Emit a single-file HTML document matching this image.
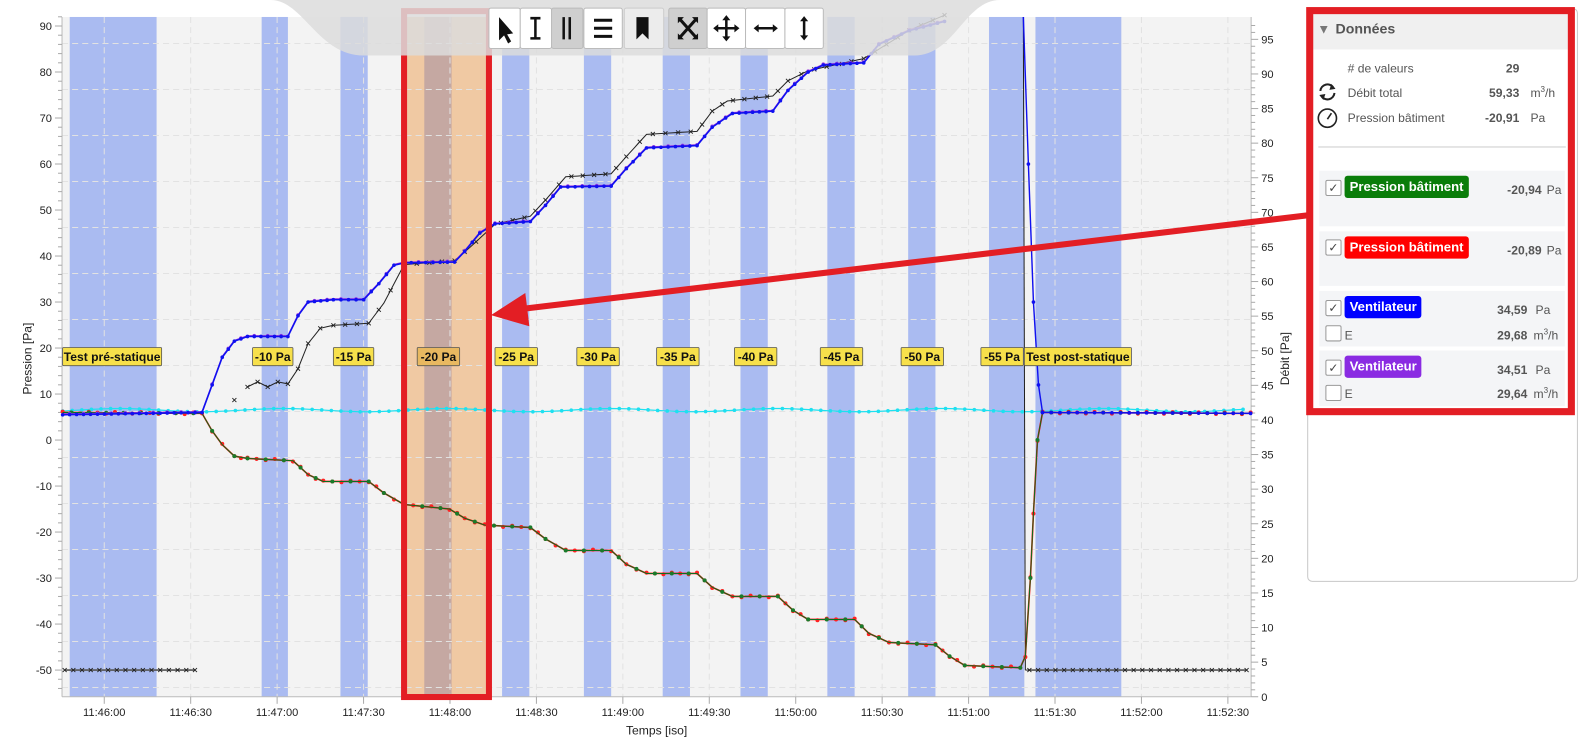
<!DOCTYPE html>
<html><head><meta charset="utf-8">
<style>
html,body{margin:0;padding:0;background:#fff;overflow:hidden;}
#wrap{position:absolute;left:0;top:0;width:1568px;height:733.5px;transform:scale(1.0102);transform-origin:0 0;font-family:"Liberation Sans",sans-serif;}
svg text{font-family:"Liberation Sans",sans-serif;}
.p{position:absolute;font-size:12px;color:#555;white-space:nowrap;}
.card{position:absolute;left:1306px;width:243px;background:#f4f5f7;}
.cb{position:absolute;width:14px;height:14px;border:1px solid #999;background:#fff;border-radius:2px;font-size:12px;line-height:14px;text-align:center;color:#444;}
.badge{position:absolute;height:22px;line-height:22px;color:#fff;font-weight:bold;font-size:13px;padding:0 5px;border-radius:3px;}
.v{position:absolute;font-weight:bold;font-size:12px;color:#555;text-align:right;width:60px;}
</style></head><body>
<div id="wrap">
<svg id="s" width="1568" height="734" viewBox="0 0 1568 734" style="position:absolute;left:0;top:0"></svg>

<div style="position:absolute;left:1294px;top:8px;width:266px;height:566px;border:1px solid #c8c8c8;border-radius:5px;background:#fff"></div>
<div style="position:absolute;left:1300px;top:13px;width:253px;height:36px;background:#f0f0f0"></div>
<div class="p" style="left:1304px;top:21px;font-size:13px;color:#777">▼</div>
<div class="p" style="left:1322px;top:20px;font-size:14px;font-weight:bold;color:#555">Données</div>
<div class="p" style="left:1334px;top:61px">&#35; de valeurs</div>
<div class="v" style="left:1444px;top:61px">29</div>
<div class="p" style="left:1334px;top:85px">Débit total</div>
<div class="v" style="left:1444px;top:85px">59,33</div>
<div class="p" style="left:1515px;top:84px">m<sup style="font-size:8px">3</sup>/h</div>
<div class="p" style="left:1334px;top:110px">Pression bâtiment</div>
<div class="v" style="left:1444px;top:110px">-20,91</div>
<div class="p" style="left:1515px;top:110px">Pa</div>
<svg style="position:absolute;left:1303px;top:80px" width="22" height="50" viewBox="0 0 22 50">
<path d="M4,10 A7,7 0 0 1 17,7" fill="none" stroke="#222" stroke-width="2"/><path d="M18,12 A7,7 0 0 1 5,15" fill="none" stroke="#222" stroke-width="2"/>
<polygon points="15,3 19,8 13,9" fill="#222"/><polygon points="7,19 3,14 9,13" fill="#222"/>
<circle cx="11" cy="37" r="9" fill="none" stroke="#222" stroke-width="1.6"/><line x1="11" y1="38" x2="15" y2="32" stroke="#222" stroke-width="1.6"/>
</svg>
<div style="position:absolute;left:1305px;top:145px;width:245px;height:1px;background:#ccc"></div>

<div class="card" style="top:169px;height:55px"></div>
<div class="cb" style="left:1312px;top:178px">✓</div>
<div class="badge" style="left:1331px;top:174px;background:#0a7d0a">Pression bâtiment</div>
<div class="v" style="left:1466px;top:181px">-20,94</div><div class="p" style="left:1531px;top:181px">Pa</div>

<div class="card" style="top:229px;height:54px"></div>
<div class="cb" style="left:1312px;top:237px">✓</div>
<div class="badge" style="left:1331px;top:234px;background:#f00">Pression bâtiment</div>
<div class="v" style="left:1466px;top:241px">-20,89</div><div class="p" style="left:1531px;top:241px">Pa</div>

<div class="card" style="top:288px;height:55px"></div>
<div class="cb" style="left:1312px;top:297px">✓</div>
<div class="badge" style="left:1331px;top:293px;background:#00f">Ventilateur</div>
<div class="v" style="left:1452px;top:300px">34,59</div><div class="p" style="left:1520px;top:300px">Pa</div>
<div class="cb" style="left:1312px;top:322px"></div><div class="p" style="left:1331px;top:325px">E</div>
<div class="v" style="left:1452px;top:325px">29,68</div><div class="p" style="left:1518px;top:324px">m<sup style="font-size:8px">3</sup>/h</div>

<div class="card" style="top:347px;height:55px"></div>
<div class="cb" style="left:1312px;top:356px">✓</div>
<div class="badge" style="left:1331px;top:352px;background:#8a2be2">Ventilateur</div>
<div class="v" style="left:1452px;top:359px">34,51</div><div class="p" style="left:1520px;top:359px">Pa</div>
<div class="cb" style="left:1312px;top:381px"></div><div class="p" style="left:1331px;top:383px">E</div>
<div class="v" style="left:1452px;top:383px">29,64</div><div class="p" style="left:1518px;top:382px">m<sup style="font-size:8px">3</sup>/h</div>

<div style="position:absolute;left:1293px;top:7px;width:252px;height:390px;border:7px solid #e31e24"></div>
</div>
<script>
const S=document.getElementById('s');let h='';
const X0=61.4,X1=1238.5,T=16.8,B=689.7;
const YL=v=>435.6-4.554*v, YR=v=>689.7-6.85*v, XT=t=>103.2+2.852*t;
h+=`<rect x="${X0}" y="${T}" width="${X1-X0}" height="${B-T}" fill="#f3f3f3"/>`;
[[69,155],[259,285],[337,364],[497,524],[578,605],[656,683],[733,760],[819,846],[899,926],[979,1014],[1025,1110]].forEach(b=>h+=`<rect x="${b[0]}" y="${T}" width="${b[1]-b[0]}" height="${B-T}" fill="#aabbf1"/>`);
h+=`<rect x="403" y="${T}" width="78" height="${B-T}" fill="#f0c9a3"/><rect x="420" y="${T}" width="27" height="${B-T}" fill="#c5a8a2"/>`;
for(let k=0;k<=13;k++){let x=XT(30*k);h+=`<line x1="${x}" y1="${T}" x2="${x}" y2="${B}" stroke="#e2e2e2" stroke-dasharray="6,4"/>`;}
for(let v=86.2;v>-56;v-=10){let y=YL(v);h+=`<line x1="${X0}" y1="${y}" x2="${X1}" y2="${y}" stroke="#e2e2e2" stroke-dasharray="6,4"/>`;}
h+=`<line x1="${X0}" y1="${T}" x2="${X0}" y2="${B}" stroke="#bbb"/><line x1="${X1}" y1="${T}" x2="${X1}" y2="${B}" stroke="#bbb"/><line x1="${X0}" y1="${B}" x2="${X1}" y2="${B}" stroke="#bbb"/>`;
for(let v=-54;v<=92;v+=2){let y=YL(v),mj=v%10==0;h+=`<line x1="${X0-(mj?7:4)}" y1="${y}" x2="${X0}" y2="${y}" stroke="#aaa"/>`;if(mj)h+=`<text x="${X0-10}" y="${y+4}" font-size="11" text-anchor="end" fill="#222">${v}</text>`;}
for(let v=0;v<=97;v++){let y=YR(v),mj=v%5==0;h+=`<line x1="${X1}" y1="${y}" x2="${X1+(mj?7:4)}" y2="${y}" stroke="#aaa"/>`;if(mj)h+=`<text x="${X1+10}" y="${y+4}" font-size="11" fill="#222">${v}</text>`;}
const tl=['11:46:00','11:46:30','11:47:00','11:47:30','11:48:00','11:48:30','11:49:00','11:49:30','11:50:00','11:50:30','11:51:00','11:51:30','11:52:00','11:52:30'];
tl.forEach((s,k)=>{let x=XT(30*k);h+=`<line x1="${x}" y1="${B}" x2="${x}" y2="${B+7}" stroke="#aaa"/><text x="${x}" y="${B+19}" font-size="11" text-anchor="middle" fill="#222">${s}</text>`;});
h+=`<text x="650" y="727" font-size="12" text-anchor="middle" fill="#222">Temps [iso]</text>`;
h+=`<text transform="translate(31,355) rotate(-90)" font-size="12" text-anchor="middle" fill="#222">Pression [Pa]</text>`;
h+=`<text transform="translate(1276,355) rotate(-90)" font-size="12" text-anchor="middle" fill="#222">Débit [Pa]</text>`;
function interp(pts,step){let o=[];for(let i=0;i<pts.length-1;i++){let [a,b]=[pts[i],pts[i+1]];let n=Math.max(1,Math.round((b[0]-a[0])/step));for(let j=0;j<n;j++)o.push([a[0]+(b[0]-a[0])*j/n,a[1]+(b[1]-a[1])*j/n]);}o.push(pts[pts.length-1]);return o;}
function line(p,c,w,op){return `<polyline points="${p.map(q=>q[0].toFixed(1)+','+q[1].toFixed(1)).join(' ')}" fill="none" stroke="${c}" stroke-width="${w}" ${op?'opacity="'+op+'"':''}/>`;}
function dots(p,c,r){return p.map(q=>`<circle cx="${q[0].toFixed(1)}" cy="${q[1].toFixed(1)}" r="${r}" fill="${c}"/>`).join('');}
function crosses(p,c){return p.map(q=>`<path d="M${q[0]-2},${q[1]-2}l4,4M${q[0]-2},${q[1]+2}l4,-4" stroke="${c}" stroke-width="0.9"/>`).join('');}
let cy=[];for(let x=62;x<=1238;x+=9.5)cy.push([x,YL(6.5+Math.sin(x*0.7)*0.35)]);
h+=line(cy,'#1ee0f0',1.2)+dots(cy,'#1ee0f0',1.8);
let bk=[[245,383],[255,378],[265,383],[275,378],[285,380],[295,365],[305,340],[317,325],[330,322],[365,320],[380,300],[400,262],[450,258],[465,245],[490,222],[525,214],[540,198],[560,175],[605,172],[620,155],[640,133],[690,130],[705,110],[720,100],[765,95],[780,80],[800,70],[855,58],[900,30],[935,15]];
let bki=interp(bk,6);h+=line(bki,'#222',1)+crosses(bki.filter((q,i)=>i%2==0),'#222')+crosses([[232,396]],'#222');
let fl1=[],fl2=[];for(let x=64;x<=193;x+=8.6)fl1.push([x,YL(-50)]);for(let x=1019;x<=1238;x+=8.6)fl2.push([x,YL(-50)]);
h+=line(fl1,'#555',1.5)+crosses(fl1,'#222')+line(fl2,'#555',1.5)+crosses(fl2,'#222');
h+=`<line x1="1013" y1="${T}" x2="1015" y2="${YL(-50)}" stroke="#222" stroke-width="1"/><line x1="1015" y1="${YL(-50)}" x2="1019" y2="${YL(-50)}" stroke="#222"/>`;
let pr=[[62,6],[200,5.8],[210,2],[220,-1],[232,-3.5],[245,-4],[290,-4.5],[305,-7.5],[320,-9],[365,-9],[380,-11.5],[400,-14],[445,-15],[460,-17],[480,-18.5],[525,-19],[540,-21.5],[560,-24],[605,-24],[620,-27],[640,-29],[690,-29],[705,-32],[725,-34],[770,-34],[785,-37],[800,-39],[846,-39],[860,-42],[880,-44],[926,-44.5],[940,-47],[955,-49],[1010,-49.5],[1015,-47],[1020,-30],[1023,-16],[1027,0],[1032,6],[1238,5.8]].map(q=>[q[0],YL(q[1])]);
let pri=interp(pr,8.6);
h+=line(pri,'#f00',1.6)+dots(pri.map((q,i)=>[q[0],q[1]+(i%3-1)*0.8]),'#f22',2)+line(pri,'#0a6e1e',1)+dots(pri.filter((q,i)=>i%2),'#1a7a2a',2);
let bl=[[62,5.5],[200,6],[210,12],[220,18],[232,21.5],[245,22.5],[285,22.5],[295,27],[305,30],[330,30.5],[360,30.5],[375,34],[390,38],[400,38.5],[450,38.7],[460,41],[475,45],[490,47],[525,47.5],[540,51],[555,55],[605,55.2],[620,59],[640,63.5],[690,64],[705,68],[725,71],[765,71.5],[780,76],[800,80],[815,81.5],[855,82],[870,86],[900,89],[935,91]].map(q=>[q[0],YL(q[1])]);
let bli=interp(bl,7);
h+=line(bli.map(q=>[q[0],q[1]-0.8]),'#9b30e0',1.2)+dots(bli.filter((q,i)=>i%2).map(q=>[q[0],q[1]-0.8]),'#a040e0',1.8);
h+=line(bli,'#1010f0',1.6)+dots(bli,'#1010f0',1.8);
let bl2=[[1013,T],[1018,YL(60)],[1023,YL(30)],[1028,YL(12)],[1032,YL(6)]];
let bl3=interp([[1032,YL(6)],[1238,YL(5.8)]],8.6);
h+=line(bl2,'#1010f0',1.4)+dots(bl2.slice(1),'#1010f0',1.8)+line(bl3,'#1010f0',1.4)+dots(bl3,'#1010f0',1.8);
[['Test pré-statique',62,160],['-10 Pa',250,290],['-15 Pa',330,370],['-20 Pa',413,455],['-25 Pa',490,532],['-30 Pa',571,613],['-35 Pa',650,692],['-40 Pa',727,769],['-45 Pa',812,854],['-50 Pa',892,934],['-55 Pa',971,1013],['Test post-statique',1014,1120]].forEach(l=>{h+=`<rect x="${l[1]}" y="344" width="${l[2]-l[1]}" height="18" fill="${l[0]=='-20 Pa'?'#e8b860':'#f7e04b'}" stroke="#555" stroke-width="0.8" rx="1"/><text x="${(l[1]+l[2])/2}" y="357.5" font-size="12" font-weight="bold" text-anchor="middle" fill="#111">${l[0]}</text>`;});
h+=`<rect x="400" y="11" width="84" height="679" fill="none" stroke="#e31e24" stroke-width="6"/>`;
h+=`<path d="M268,0 C300,0 315,55 360,55 L905,55 C945,55 955,0 990,0 Z" fill="#dcdcdc" opacity="0.85"/>`;
function btn(x,w,sel){return `<rect x="${x}" y="8" width="${w}" height="40" fill="${sel?'#cfcfcf':'#fff'}" stroke="#bbb" rx="2"/>`;}
h+=btn(484,31)+btn(515,31)+btn(546,31,1)+btn(578,38)+`<rect x="618" y="8" width="39" height="40" fill="#ececec" stroke="#ccc" rx="2"/>`+btn(662,38,1)+btn(700,38)+btn(738,39)+btn(777,38);
h+=`<path d="M494,17 L494,40 L499,35 L503,43 L506,41 L502,34 L508,33 Z" fill="#111"/>`;
h+=`<path d="M525,18h10M525,38h10M530,18v20" stroke="#111" stroke-width="2.5"/>`;
h+=`<path d="M558,17v22M564,17v22" stroke="#111" stroke-width="2.5"/>`;
h+=`<path d="M588,20h18M588,28h18M588,36h18" stroke="#111" stroke-width="3"/>`;
h+=`<path d="M630,17h12v22l-6,-6l-6,6Z" fill="#111"/>`;
h+=`<path d="M673,19l16,18M689,19l-16,18" stroke="#111" stroke-width="3"/><path d="M671,17h6l-6,6ZM691,17v6l-6,-6ZM671,39v-6l6,6ZM691,39h-6l6,-6Z" fill="#111"/>`;
h+=`<path d="M719,17v22M708,28h22" stroke="#111" stroke-width="2.5"/><path d="M715,20l4,-5l4,5ZM715,36l4,5l4,-5ZM711,24l-5,4l5,4ZM727,24l5,4l-5,4Z" fill="#111"/>`;
h+=`<path d="M749,28h18" stroke="#111" stroke-width="2.5"/><path d="M751,24l-5,4l5,4ZM765,24l5,4l-5,4Z" fill="#111"/>`;
h+=`<path d="M796,19v18" stroke="#111" stroke-width="2.5"/><path d="M792,21l4,-5l4,5ZM792,35l4,5l4,-5Z" fill="#111"/>`;
h+=`<line x1="1296" y1="213" x2="515" y2="306" stroke="#e31e24" stroke-width="6"/><polygon points="486,312 520,290 524,323" fill="#e31e24"/>`;
S.innerHTML=h;
</script>
</body></html>
